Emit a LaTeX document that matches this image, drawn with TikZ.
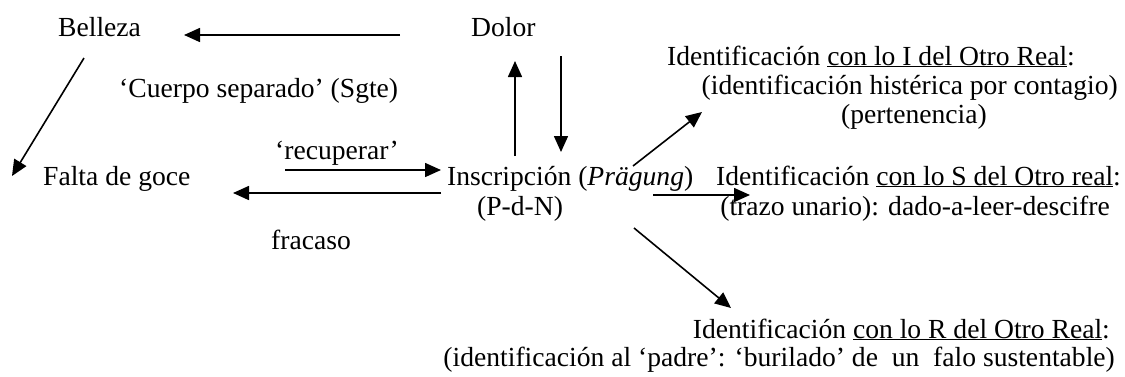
\documentclass[tikz,border=0pt]{standalone}
\usepackage{fontspec}
\setmainfont{Liberation Serif}
\usetikzlibrary{arrows.meta}
\begin{document}
\begin{tikzpicture}[x=1pt,y=-1pt,
  lbl/.style={inner sep=0pt, anchor=base west, font=\fontsize{27.6}{30}\selectfont},
  lblr/.style={lbl, anchor=base east},
  arr/.style={line width=1.6pt, -{Triangle[length=16pt,width=14pt]}}]
\useasboundingbox (0,0) rectangle (1125,376);

% left part of the scheme
\node[lbl] (belleza) at (58,36) {Belleza};
\node[lbl] (dolor) at (471,36) {Dolor};
\node[lbl] (cuerpo) at (119,97) {‘Cuerpo separado’ (Sgte)};
\node[lbl] (recup) at (275,159) {‘recuperar’};
\node[lbl] (falta) at (43,185) {Falta de goce};
\node[lbl] (inscr) at (447,185) {Inscripción (\textit{Prägung})};
\node[lbl] (pdn) at (477,215) {(P-d-N)};
\node[lbl] (fracaso) at (271,249) {fracaso};

% the three identifications
\node[lblr] (idI) at (1075,65) {Identificación \underline{con lo I del Otro Real}:};
\node[lblr] (idIa) at (1118,94) {(identificación histérica por contagio)};
\node[lblr] (idIb) at (987,123) {(pertenencia)};
\node[lblr] (idS) at (1121,185) {Identificación \underline{con lo S del Otro real}:};
\node[lblr] (idSa) at (1110,215) {(trazo unario): dado-a-leer-descifre};
\node[lblr] (idR) at (1110,338) {Identificación \underline{con lo R del Otro Real}:};
\node[lblr] (idRa) at (1115,366) {(identificación al ‘padre’: ‘burilado’ de\ \ un\ \ falo sustentable)};

% arrow end points
\coordinate (dolorOut) at (400,35);
\coordinate (bellezaIn) at (184,35);
\coordinate (bellezaOut) at (84,58);
\coordinate (faltaIn) at (12,176);
\coordinate (faltaOut) at (285,170);
\coordinate (inscrIn) at (441,170);
\coordinate (inscrOut) at (441,193);
\coordinate (faltaBack) at (233,193);
\coordinate (upFrom) at (515,156);
\coordinate (upTo) at (515,61);
\coordinate (downFrom) at (561,56);
\coordinate (downTo) at (561,152);
\coordinate (toIfrom) at (633,166);
\coordinate (toIto) at (702,112);
\coordinate (toSfrom) at (653,195);
\coordinate (toSto) at (750,195);
\coordinate (toRfrom) at (634,228);
\coordinate (toRto) at (731,308);

\draw[arr] (dolorOut) -- (bellezaIn);
\draw[arr] (bellezaOut) -- (faltaIn);
\draw[arr] (faltaOut) -- (inscrIn);
\draw[arr] (inscrOut) -- (faltaBack);
\draw[arr] (upFrom) -- (upTo);
\draw[arr] (downFrom) -- (downTo);
\draw[arr] (toIfrom) -- (toIto);
\draw[arr] (toSfrom) -- (toSto);
\draw[arr] (toRfrom) -- (toRto);
\end{tikzpicture}
\end{document}
